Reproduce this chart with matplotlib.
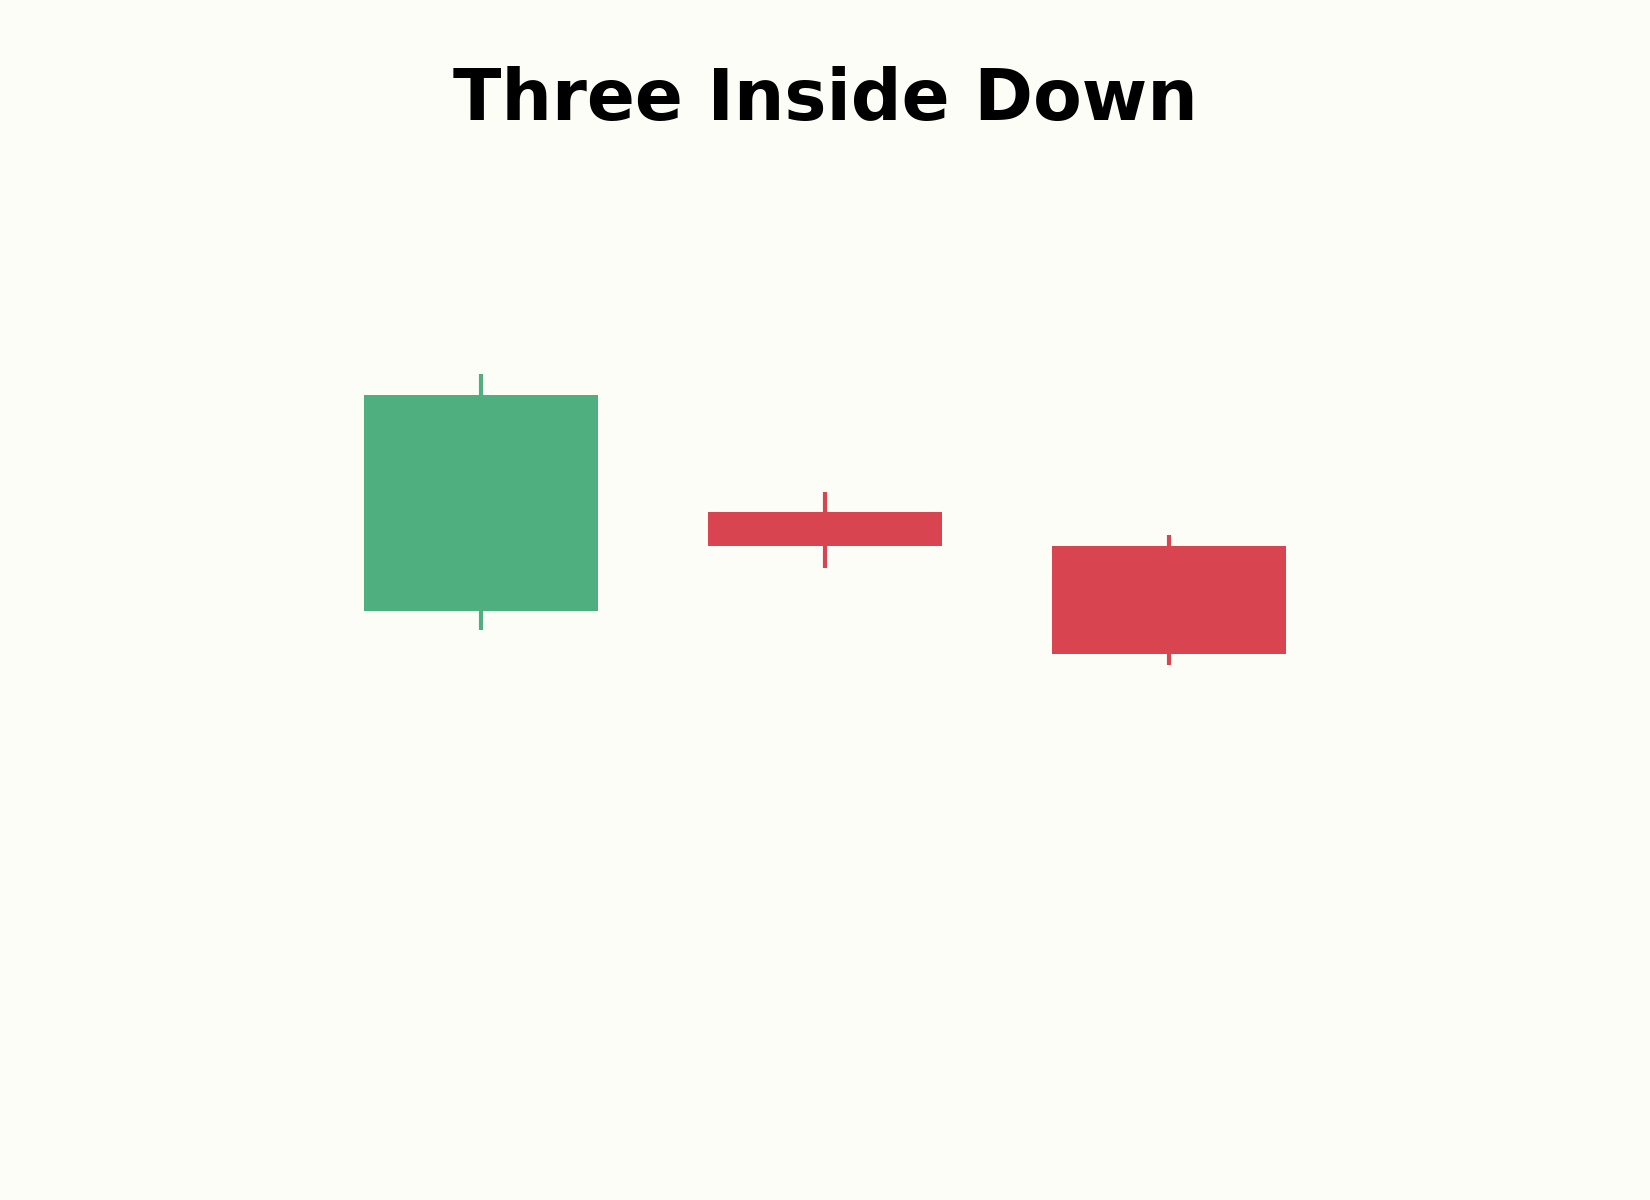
import numpy as np
import matplotlib.pyplot as plt
from matplotlib.patches import Rectangle

# candle data
days = [0, 1, 2]
opens = [100.0, 104.6, 103.0]
closes = [110.0, 103.0, 98.0]
highs = [111.0, 105.5, 103.5]
lows = [99.1, 102.0, 97.5]

bg = '#fdfdf8'
up_color = '#4faf7f'
down_color = '#d84550'
body_width = 0.68

fig = plt.figure(figsize=(16.5, 12), dpi=100, facecolor=bg)
ax = fig.add_axes([0, 0, 1, 1])
ax.set_facecolor(bg)

for d, o, c, h, l in zip(days, opens, closes, highs, lows):
    color = up_color if c >= o else down_color
    ax.vlines(d, l, h, color=color, linewidth=3, zorder=1)
    ax.add_patch(Rectangle((d - body_width / 2, min(o, c)), body_width,
                           abs(c - o), facecolor=color, edgecolor='none',
                           zorder=2))

ax.set_xlim(-1.398, 3.398)
ax.set_ylim(72.65, 128.36)
ax.axis('off')

fig.text(0.5, 0.9, 'Three Inside Down', ha='center', va='baseline',
         fontsize=51, fontweight='bold')

plt.savefig('out.png', facecolor=bg)
